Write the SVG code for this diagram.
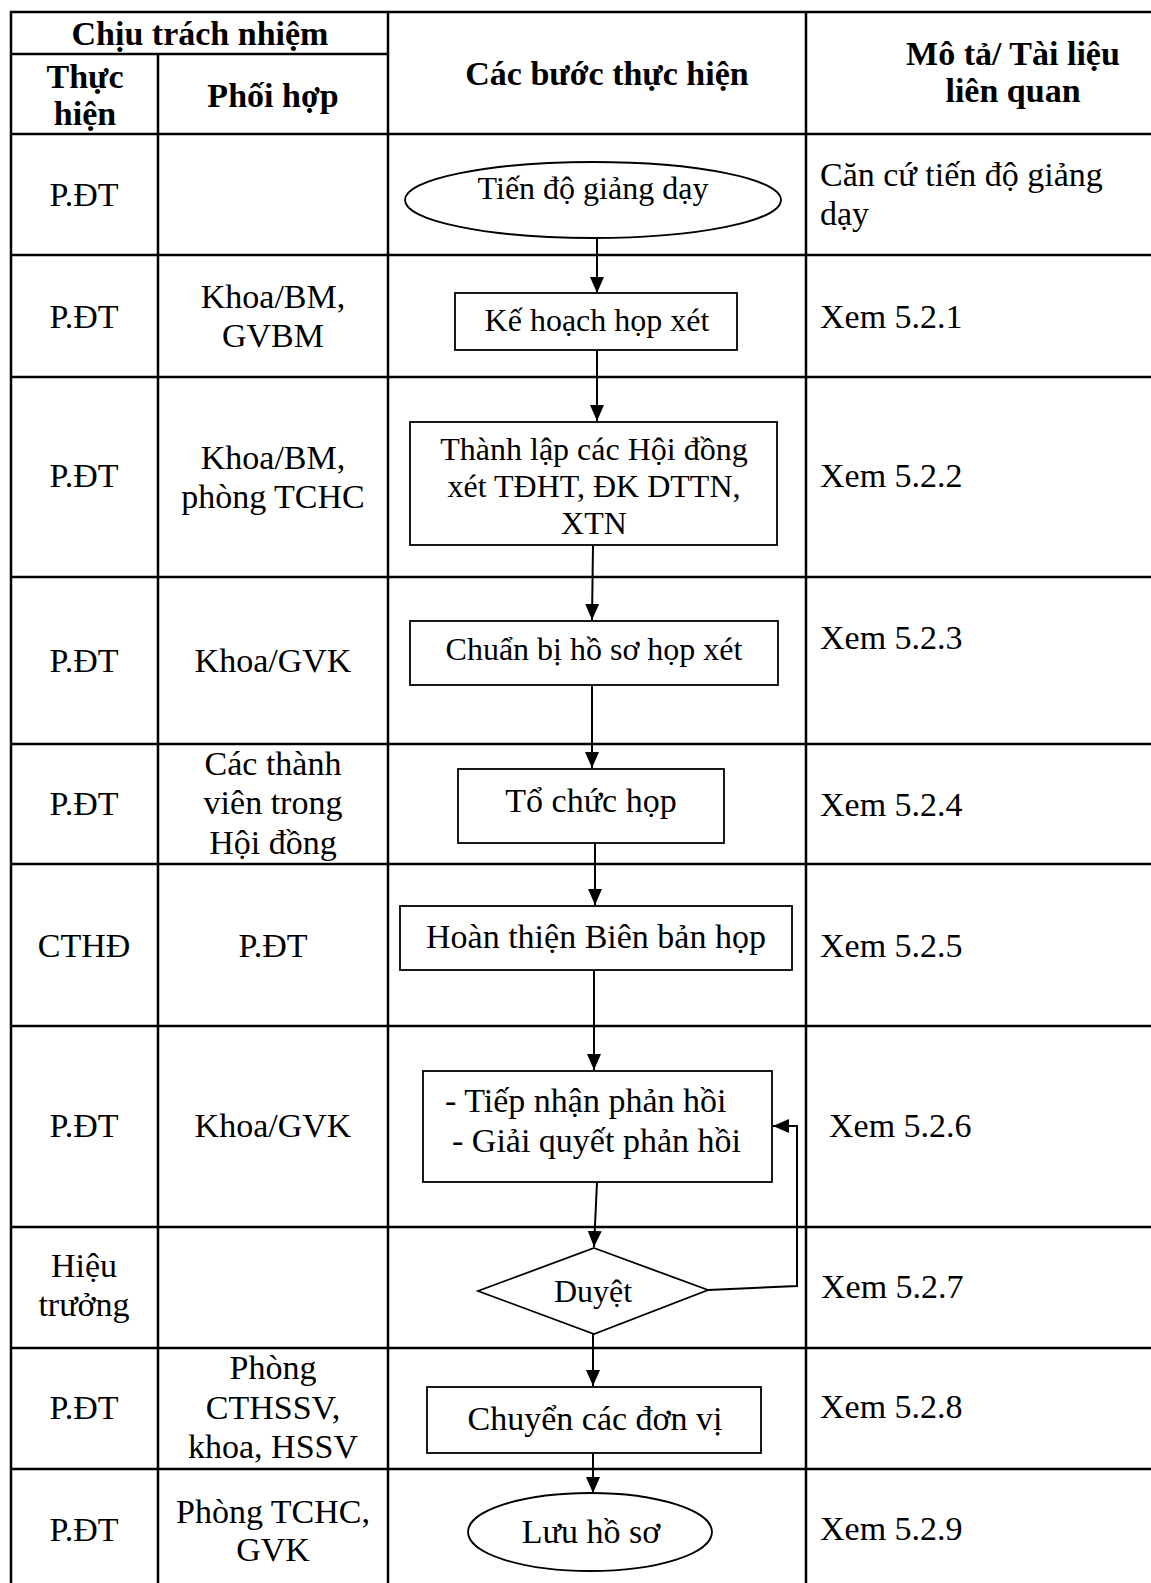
<svg xmlns="http://www.w3.org/2000/svg" width="1151" height="1583" viewBox="0 0 1151 1583">
<style>
text{font-family:"Liberation Serif","Times New Roman",serif;fill:#000}
.h{font-weight:bold;font-size:34px;text-anchor:middle}
.c{font-size:34px;text-anchor:middle}
.l{font-size:34px}
.s{font-size:32px;text-anchor:middle}
.grid line{stroke:#000;stroke-width:2.5}
.shape{fill:#fff;stroke:#000;stroke-width:1.8}
.conn{fill:none;stroke:#000;stroke-width:2}
</style>
<defs>
<marker id="arr" markerUnits="userSpaceOnUse" markerWidth="17" markerHeight="17" viewBox="0 0 17 17" refX="16" refY="8.5" orient="auto">
<path d="M0,1.5 L16,8.5 L0,15.5 Z" fill="#000"/>
</marker>
</defs>
<rect width="1151" height="1583" fill="#fff"/>
<g id="grid" class="grid">
<line x1="10" y1="12" x2="1151" y2="12"/>
<line x1="10" y1="54" x2="388" y2="54"/>
<line x1="10" y1="134" x2="1151" y2="134"/>
<line x1="10" y1="255" x2="1151" y2="255"/>
<line x1="10" y1="377" x2="1151" y2="377"/>
<line x1="10" y1="577" x2="1151" y2="577"/>
<line x1="10" y1="744" x2="1151" y2="744"/>
<line x1="10" y1="864" x2="1151" y2="864"/>
<line x1="10" y1="1026" x2="1151" y2="1026"/>
<line x1="10" y1="1227" x2="1151" y2="1227"/>
<line x1="10" y1="1348" x2="1151" y2="1348"/>
<line x1="10" y1="1469" x2="1151" y2="1469"/>
<line x1="11" y1="11" x2="11" y2="1583"/>
<line x1="158" y1="54" x2="158" y2="1583"/>
<line x1="388" y1="11" x2="388" y2="1583"/>
<line x1="806" y1="11" x2="806" y2="1583"/>
</g>
<g id="headers">
<text class="h" x="200" y="45">Chịu trách nhiệm</text>
<text class="h" x="85" y="88">Thực</text>
<text class="h" x="85" y="125">hiện</text>
<text class="h" x="273" y="107">Phối hợp</text>
<text class="h" x="607" y="85">Các bước thực hiện</text>
<text class="h" x="1013" y="65">Mô tả/ Tài liệu</text>
<text class="h" x="1013" y="102">liên quan</text>
</g>
<g id="col-thuchien">
<text class="c" x="84" y="206">P.ĐT</text>
<text class="c" x="84" y="328">P.ĐT</text>
<text class="c" x="84" y="487">P.ĐT</text>
<text class="c" x="84" y="672">P.ĐT</text>
<text class="c" x="84" y="815">P.ĐT</text>
<text class="c" x="84" y="957">CTHĐ</text>
<text class="c" x="84" y="1137">P.ĐT</text>
<text class="c" x="84" y="1277">Hiệu</text>
<text class="c" x="84" y="1316">trưởng</text>
<text class="c" x="84" y="1419">P.ĐT</text>
<text class="c" x="84" y="1541">P.ĐT</text>
</g>
<g id="col-phoihop">
<text class="c" x="273" y="308">Khoa/BM,</text>
<text class="c" x="273" y="347">GVBM</text>
<text class="c" x="273" y="469">Khoa/BM,</text>
<text class="c" x="273" y="508">phòng TCHC</text>
<text class="c" x="273" y="672">Khoa/GVK</text>
<text class="c" x="273" y="775">Các thành</text>
<text class="c" x="273" y="814">viên trong</text>
<text class="c" x="273" y="854">Hội đồng</text>
<text class="c" x="273" y="957">P.ĐT</text>
<text class="c" x="273" y="1137">Khoa/GVK</text>
<text class="c" x="273" y="1379">Phòng</text>
<text class="c" x="273" y="1419">CTHSSV,</text>
<text class="c" x="273" y="1458">khoa, HSSV</text>
<text class="c" x="273" y="1523">Phòng TCHC,</text>
<text class="c" x="273" y="1561">GVK</text>
</g>
<g id="col-mota">
<text class="l" x="820" y="186">Căn cứ tiến độ giảng</text>
<text class="l" x="820" y="225">dạy</text>
<text class="l" x="820" y="328">Xem 5.2.1</text>
<text class="l" x="820" y="487">Xem 5.2.2</text>
<text class="l" x="820" y="649">Xem 5.2.3</text>
<text class="l" x="820" y="816">Xem 5.2.4</text>
<text class="l" x="820" y="957">Xem 5.2.5</text>
<text class="l" x="829" y="1137">Xem 5.2.6</text>
<text class="l" x="821" y="1298">Xem 5.2.7</text>
<text class="l" x="820" y="1418">Xem 5.2.8</text>
<text class="l" x="820" y="1540">Xem 5.2.9</text>
</g>
<g id="connectors">
<line class="conn" x1="597" y1="238" x2="597" y2="293" marker-end="url(#arr)"/>
<line class="conn" x1="597" y1="350" x2="597" y2="421" marker-end="url(#arr)"/>
<line class="conn" x1="593" y1="545" x2="592" y2="620" marker-end="url(#arr)"/>
<line class="conn" x1="592" y1="685" x2="592" y2="768" marker-end="url(#arr)"/>
<line class="conn" x1="595" y1="843" x2="595" y2="905" marker-end="url(#arr)"/>
<line class="conn" x1="594" y1="970" x2="594" y2="1070" marker-end="url(#arr)"/>
<line class="conn" x1="597" y1="1182" x2="594" y2="1247" marker-end="url(#arr)"/>
<polyline class="conn" points="708,1290 797,1286 797,1126 773,1126" marker-end="url(#arr)"/>
<line class="conn" x1="593" y1="1334" x2="593" y2="1386" marker-end="url(#arr)"/>
<line class="conn" x1="593" y1="1453" x2="593" y2="1493" marker-end="url(#arr)"/>
</g>
<g id="n1">
<ellipse class="shape" cx="593" cy="200" rx="188" ry="38"/>
<text class="s" x="593" y="199">Tiến độ giảng dạy</text>
</g>
<g id="n2">
<rect class="shape" x="455" y="293" width="282" height="57"/>
<text class="s" x="597" y="331">Kế hoạch họp xét</text>
</g>
<g id="n3">
<rect class="shape" x="410" y="422" width="367" height="123"/>
<text class="s" x="594" y="460">Thành lập các Hội đồng</text>
<text class="s" x="594" y="497">xét TĐHT, ĐK DTTN,</text>
<text class="s" x="594" y="534">XTN</text>
</g>
<g id="n4">
<rect class="shape" x="410" y="621" width="368" height="64"/>
<text class="s" x="594" y="660">Chuẩn bị hồ sơ họp xét</text>
</g>
<g id="n5">
<rect class="shape" x="458" y="769" width="266" height="74"/>
<text class="c" x="591" y="812">Tổ chức họp</text>
</g>
<g id="n6">
<rect class="shape" x="400" y="906" width="392" height="64"/>
<text class="c" x="596" y="948">Hoàn thiện Biên bản họp</text>
</g>
<g id="n7">
<rect class="shape" x="423" y="1071" width="349" height="111"/>
<text class="l" x="445" y="1112">- Tiếp nhận phản hồi</text>
<text class="l" x="452" y="1152">- Giải quyết phản hồi</text>
</g>
<g id="n8">
<polygon class="shape" points="594,1248 708,1290 594,1334 478,1291"/>
<text class="s" x="593" y="1302">Duyệt</text>
</g>
<g id="n9">
<rect class="shape" x="427" y="1387" width="334" height="66"/>
<text class="c" x="595" y="1430">Chuyển các đơn vị</text>
</g>
<g id="n10">
<ellipse class="shape" cx="590" cy="1532" rx="122" ry="39"/>
<text class="c" x="591" y="1543">Lưu hồ sơ</text>
</g>
</svg>
